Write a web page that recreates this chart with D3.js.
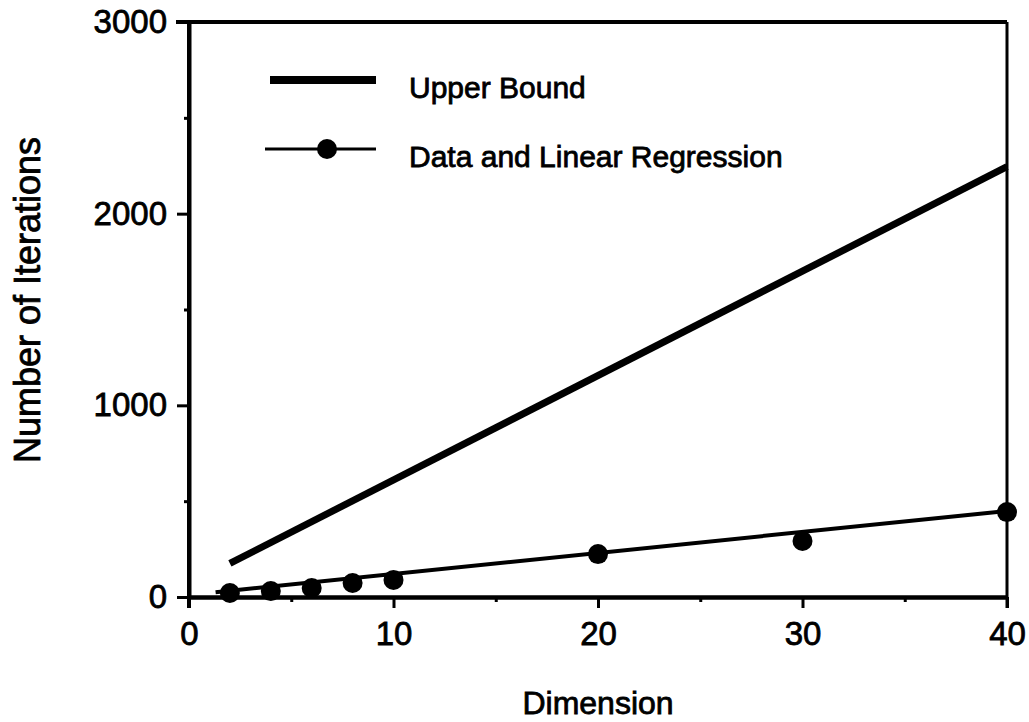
<!DOCTYPE html>
<html lang="en">
<head>
<meta charset="utf-8">
<title>Iterations vs Dimension</title>
<script src="https://d3js.org/d3.v7.min.js"></script>
<style>
  body { margin: 0; background: #fff; }
  text { font-family: "Liberation Sans", Arial, Helvetica, sans-serif; fill: #000; stroke: #000; stroke-width: 0.8px; }
</style>
</head>
<body>
<script>
// data
var dims = [2, 4, 6, 8, 10, 20, 30, 40];
var iterations = [21, 31, 47, 73, 89, 224, 292, 443];
// linear regression line end points
var regX = [1.3, 40];
var regY = [25, 449];
// upper bound end points
var upperX = [2, 40];
var upperY = [175, 2245];
var xTicks = [0, 10, 20, 30, 40];
var xMinor = [5, 15, 25, 35];
var yTicks = [0, 1000, 2000, 3000];
var yMinor = [500, 1500, 2500];
var legendLabels = ["Upper Bound", "Data and Linear Regression"];

var w = 1029, h = 722;
var mLeft = 189, mRight = 1007, mTop = 22, mBottom = 597;

var svg = d3.select("body").append("svg")
  .attr("width", w)
  .attr("height", h);

var x = d3.scaleLinear().domain([0, 40]).range([mLeft, mRight]);
var y = d3.scaleLinear().domain([0, 3000]).range([mBottom, mTop]);

// frame: top and right edges
svg.append("line")
  .attr("x1", mLeft - 13).attr("y1", mTop).attr("x2", mRight).attr("y2", mTop)
  .attr("stroke", "#000").attr("stroke-width", 4);
svg.append("line")
  .attr("x1", mRight).attr("y1", mTop).attr("x2", mRight).attr("y2", mBottom + 11)
  .attr("stroke", "#000").attr("stroke-width", 3);

// y axis
var yAxis = svg.append("g").attr("transform", "translate(" + mLeft + ",0)")
  .call(d3.axisLeft(y).tickValues(yTicks).tickSize(12).tickSizeOuter(0).tickPadding(10).tickFormat(d3.format("d")));
svg.append("g").attr("transform", "translate(" + mLeft + ",0)")
  .call(d3.axisLeft(y).tickValues(yMinor).tickSize(5).tickSizeOuter(0).tickFormat(""));

// x axis
var xAxis = svg.append("g").attr("transform", "translate(0," + mBottom + ")")
  .call(d3.axisBottom(x).tickValues(xTicks).tickSize(11).tickSizeOuter(0).tickPadding(14));
svg.append("g").attr("transform", "translate(0," + mBottom + ")")
  .call(d3.axisBottom(x).tickValues(xMinor).tickSize(5).tickSizeOuter(0).tickFormat(""));

svg.selectAll(".domain").attr("stroke", "#000").attr("stroke-width", 4);
svg.selectAll(".tick line").attr("stroke", "#000").attr("stroke-width", 3);
svg.selectAll(".tick text").style("font-size", "33px");
// y axis domain runs a bit below the x axis like the original
yAxis.select(".domain").attr("d", "M0," + mTop + "V" + (mBottom + 11));

// upper bound line
var line = d3.line().x(function(d) { return x(d[0]); }).y(function(d) { return y(d[1]); });
svg.append("path")
  .datum(d3.zip(upperX, upperY))
  .attr("d", line)
  .attr("fill", "none").attr("stroke", "#000").attr("stroke-width", 7);

// regression line
svg.append("path")
  .datum(d3.zip(regX, regY))
  .attr("d", line)
  .attr("fill", "none").attr("stroke", "#000").attr("stroke-width", 4);

// data points
svg.selectAll("circle.pt")
  .data(d3.zip(dims, iterations))
  .enter().append("circle")
  .attr("class", "pt")
  .attr("cx", function(d) { return x(d[0]); })
  .attr("cy", function(d) { return y(d[1]); })
  .attr("r", 10)
  .attr("fill", "#000");

// legend
svg.append("line")
  .attr("x1", 270).attr("y1", 80).attr("x2", 376).attr("y2", 80)
  .attr("stroke", "#000").attr("stroke-width", 8);
svg.append("text").attr("x", 409).attr("y", 98)
  .style("font-size", "30px").text(legendLabels[0]);

svg.append("line")
  .attr("x1", 265).attr("y1", 149).attr("x2", 376).attr("y2", 149)
  .attr("stroke", "#000").attr("stroke-width", 3);
svg.append("circle").attr("cx", 327).attr("cy", 149).attr("r", 10).attr("fill", "#000");
svg.append("text").attr("x", 409).attr("y", 167)
  .style("font-size", "30px").text(legendLabels[1]);

// axis titles
svg.append("text")
  .attr("x", (mLeft + mRight) / 2).attr("y", 714)
  .attr("text-anchor", "middle")
  .style("font-size", "32px")
  .text("Dimension");
svg.append("text")
  .attr("transform", "translate(40,300) rotate(-90)")
  .attr("text-anchor", "middle")
  .style("font-size", "36px")
  .text("Number of Iterations");
</script>
</body>
</html>
